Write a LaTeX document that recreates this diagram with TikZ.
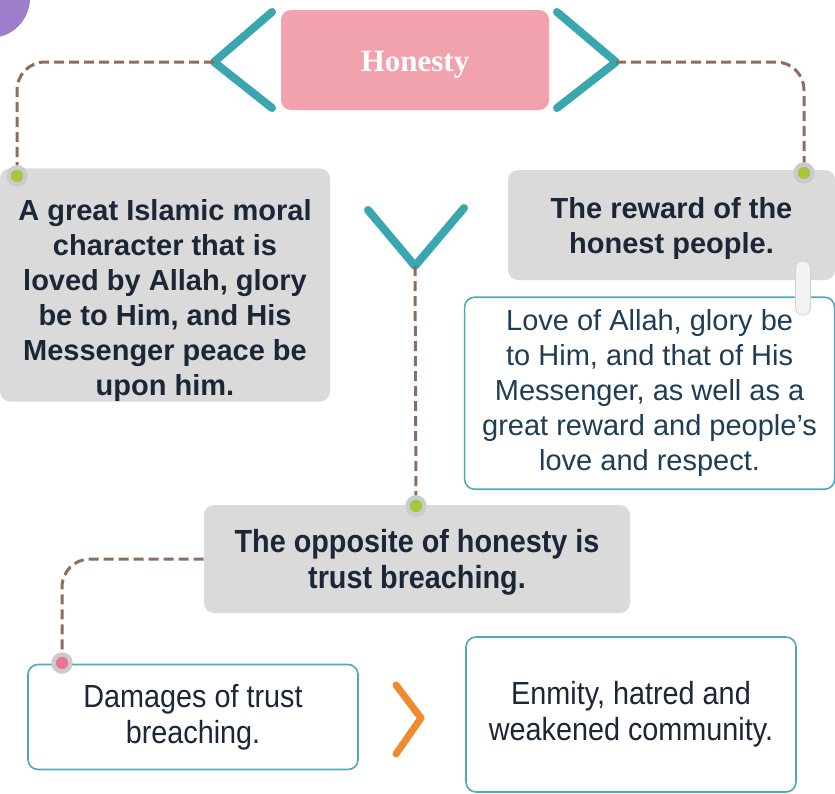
\documentclass[tikz,border=0pt]{standalone}
\usepackage{fontspec}
\setmainfont{Liberation Serif}
\newfontfamily\arialfont{Liberation Sans}
\newfontfamily\narrowfont[FakeStretch=0.9]{Liberation Sans}
\usetikzlibrary{positioning,calc}
\definecolor{boxgray}{HTML}{DADADA}
\definecolor{honestypink}{HTML}{F2A2AC}
\definecolor{chevteal}{HTML}{3AA6B0}
\definecolor{frameteal}{HTML}{4EA9B8}
\definecolor{chevorange}{HTML}{F08A2E}
\definecolor{linkbrown}{HTML}{8C6E5C}
\definecolor{dotgreen}{HTML}{A8C63A}
\definecolor{dotpink}{HTML}{EE7390}
\definecolor{ringgray}{HTML}{C9CBCE}
\definecolor{textdark}{HTML}{1B2636}
\definecolor{textblue}{HTML}{1F3D55}
\definecolor{cornerpurple}{HTML}{9C7ECB}
\tikzset{
  mapbox/.style={rounded corners=5pt, align=center, inner sep=0pt, text=textdark},
  greybox/.style={mapbox, fill=boxgray, font=\arialfont\bfseries\fontsize{14.5}{17.5}\selectfont},
  framebox/.style={mapbox, draw=frameteal, line width=0.8pt, fill=white},
  chevron/.style={line width=4pt, line cap=round, line join=round, draw=chevteal},
  dashlink/.style={draw=linkbrown, line width=1.5pt, dash pattern=on 5pt off 2.5pt, rounded corners=14pt},
  joint/.style={circle, fill=dotgreen, draw=ringgray, line width=2.2pt, minimum size=8.5pt, inner sep=0pt},
}

\begin{document}
\begin{tikzpicture}[x=0.5pt, y=-0.5pt,
    titlebox/.style={mapbox, fill=honestypink, text=white, font=\bfseries\fontsize{15.5}{18}\selectfont},
    plaintext/.style={framebox, font=\arialfont\fontsize{14.5}{17.5}\selectfont},
    narrowtext/.style={framebox, font=\narrowfont\fontsize{16}{18}\selectfont}]
  \useasboundingbox (0,0) rectangle (835,793);
  \fill[cornerpurple] (-10,-2) circle[radius=20pt];
  \node[titlebox, minimum width=134pt, minimum height=50pt] (honesty) at (415,60) {\rule{0pt}{15pt}Honesty};
  \node[greybox, minimum width=165pt, minimum height=113pt] (moral) at (165,285) {\rule{0pt}{26pt}A great Islamic moral\\character that is\\loved by Allah, glory\\be to Him, and His\\Messenger peace be\\upon him.};
  \node[greybox, minimum width=163.5pt, minimum height=55pt] (reward) at (671.5,225) {\rule{0pt}{14pt}The reward of the\\honest people.};
  \node[plaintext, text=textblue, minimum width=185pt, minimum height=96pt, below left=8pt and 0pt of reward.south east] (rewardtext) {Love of Allah, glory be\\to Him, and that of His\\Messenger, as well as a\\great reward and people’s\\love and respect.};
  \node[greybox, font=\narrowfont\bfseries\fontsize{16}{18}\selectfont, minimum width=213pt, minimum height=54pt] (opposite) at (417,559) {\rule{0pt}{15pt}The opposite of honesty is\\trust breaching.};
  \node[narrowtext, minimum width=165pt, minimum height=52.5pt] (damages) at (193,717) {Damages of trust\\breaching.};
  \node[narrowtext, minimum width=165pt, minimum height=77.5pt] (enmity) at (631,714.5) {Enmity, hatred and\\weakened community.};
  \node[draw=gray!35, fill=gray!10, rounded corners=3.5pt, minimum width=7.5pt, minimum height=27pt, inner sep=0pt] (tab) at (803,288) {};
  \draw[chevron] (272,12) -- (214,62) coordinate (ltip) -- (272,108);
  \draw[chevron] (557,12) -- (616,62) coordinate (rtip) -- (557,108);
  \draw[chevron] (368,210) -- (415,266) coordinate (vtip) -- (464,208);
  \draw[chevron, draw=chevorange, line width=3.5pt] (396,685) -- (421,718) -- (396,754);
  \node[joint] (jmoral) at (17,176) {};
  \node[joint] (jreward) at (804,173) {};
  \node[joint] (jopposite) at (416,506) {};
  \node[joint, fill=dotpink] (jdamages) at (62,663) {};
  \draw[dashlink] (ltip) -| (jmoral);
  \draw[dashlink] (rtip) -| (jreward);
  \draw[dashlink] (vtip) -- (jopposite);
  \draw[dashlink] (opposite.west) -| (jdamages);
\end{tikzpicture}
\end{document}
